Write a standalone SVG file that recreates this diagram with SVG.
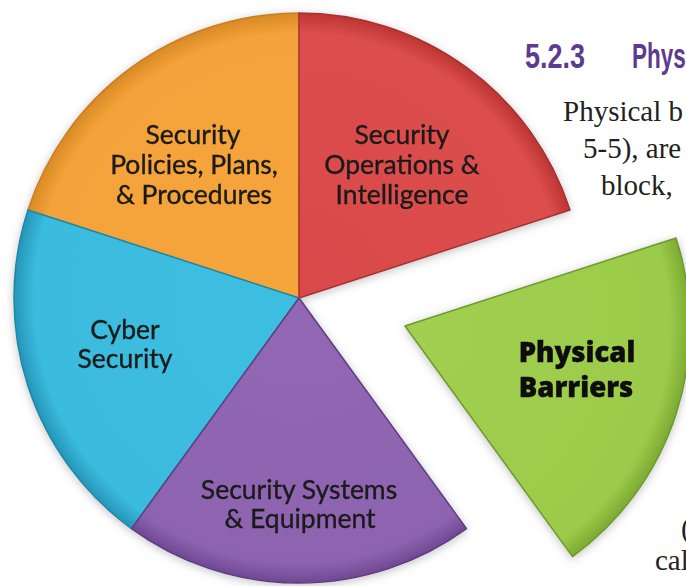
<svg xmlns="http://www.w3.org/2000/svg" width="686" height="586" viewBox="0 0 686 586">
<defs>
<filter id="shadow" x="-10%" y="-10%" width="120%" height="120%">
<feDropShadow dx="0" dy="2" stdDeviation="5" flood-color="#7a7a7a" flood-opacity="0.45"/>
</filter>
<radialGradient id="gOrange" cx="299" cy="298" r="285" gradientUnits="userSpaceOnUse">
<stop offset="0" stop-color="#F6A53A"/><stop offset="0.93" stop-color="#F4A23A"/><stop offset="1" stop-color="#D98A24"/>
</radialGradient>
<radialGradient id="gRed" cx="299" cy="298" r="285" gradientUnits="userSpaceOnUse">
<stop offset="0" stop-color="#D9494A"/><stop offset="0.93" stop-color="#DC4E4D"/><stop offset="1" stop-color="#BC3533"/>
</radialGradient>
<radialGradient id="gCyan" cx="299" cy="298" r="285" gradientUnits="userSpaceOnUse">
<stop offset="0" stop-color="#3DBEE0"/><stop offset="0.93" stop-color="#3BBBDE"/><stop offset="1" stop-color="#2596B8"/>
</radialGradient>
<radialGradient id="gPurple" cx="299" cy="298" r="285" gradientUnits="userSpaceOnUse">
<stop offset="0" stop-color="#9267B4"/><stop offset="0.93" stop-color="#8D64B0"/><stop offset="1" stop-color="#6F4893"/>
</radialGradient>
<radialGradient id="gGreen" cx="405" cy="326" r="285" gradientUnits="userSpaceOnUse">
<stop offset="0" stop-color="#A1CF50"/><stop offset="0.93" stop-color="#9CCB4B"/><stop offset="1" stop-color="#7DAA32"/>
</radialGradient>
</defs>
<style>
.seg{stroke-width:1.5;stroke-linejoin:round}
.lbl{font-family:Lato,"Open Sans","Liberation Sans",sans-serif;font-size:26.5px;fill:#1a1a1a;stroke:#1a1a1a;stroke-width:0.35;text-anchor:middle}
.bold{font-family:"Open Sans",Lato,"Liberation Sans",sans-serif;font-weight:800;font-size:27.5px;fill:#0d0d0d;stroke:#0d0d0d;stroke-width:0.4;text-anchor:middle}
.body{font-family:"Liberation Serif","DejaVu Serif",serif;font-size:29px;fill:#231F20}
.title{font-family:"Liberation Sans","DejaVu Sans",sans-serif;font-weight:700;font-size:35px;fill:#5E3B8E}
</style>
<rect width="686" height="586" fill="#ffffff"/>
<g id="page-text">
<text class="title" x="525" y="68" textLength="60" lengthAdjust="spacingAndGlyphs">5.2.3</text>
<text class="title" x="632" y="68" textLength="60" lengthAdjust="spacingAndGlyphs">Physi</text>
<text class="body" x="563" y="121">Physical b</text>
<text class="body" x="583" y="158">5-5), are</text>
<text class="body" x="601" y="195">block,</text>
<text class="body" x="681" y="538">(</text>
<text class="body" x="655" y="570">cal</text>
</g>
<g id="pie" filter="url(#shadow)">
<g id="orange-segment">
<path class="seg" d="M299,298 L27.95,209.93 A285,285 0 0 1 299,13 Z" fill="url(#gOrange)" stroke="#C9801F"/>
<text class="lbl" x="193" y="144">Security</text>
<text class="lbl" x="194" y="174">Policies, Plans,</text>
<text class="lbl" x="194" y="204">&amp; Procedures</text>
</g>
<g id="red-segment">
<path class="seg" d="M299,298 L299,13 A285,285 0 0 1 570.05,209.93 Z" fill="url(#gRed)" stroke="#A93030"/>
<text class="lbl" x="402" y="144">Security</text>
<text class="lbl" x="402" y="174">Operations &amp;</text>
<text class="lbl" x="402" y="204">Intelligence</text>
</g>
<g id="cyan-segment">
<path class="seg" d="M299,298 L131.48,528.57 A285,285 0 0 1 27.95,209.93 Z" fill="url(#gCyan)" stroke="#1F88A8"/>
<text class="lbl" x="125" y="339">Cyber</text>
<text class="lbl" x="125" y="368">Security</text>
</g>
<g id="purple-segment">
<path class="seg" d="M299,298 L466.52,528.57 A285,285 0 0 1 131.48,528.57 Z" fill="url(#gPurple)" stroke="#5F3C82"/>
<text class="lbl" x="299" y="499">Security Systems</text>
<text class="lbl" x="300" y="528">&amp; Equipment</text>
</g>
<g id="green-segment">
<path class="seg" d="M405,326 L676.05,237.93 A285,285 0 0 1 572.52,556.57 Z" fill="url(#gGreen)" stroke="#6E9A2A"/>
<text class="bold" x="577" y="362">Physical</text>
<text class="bold" x="576" y="397">Barriers</text>
</g>
</g>
<g id="connectors"/>
</svg>
